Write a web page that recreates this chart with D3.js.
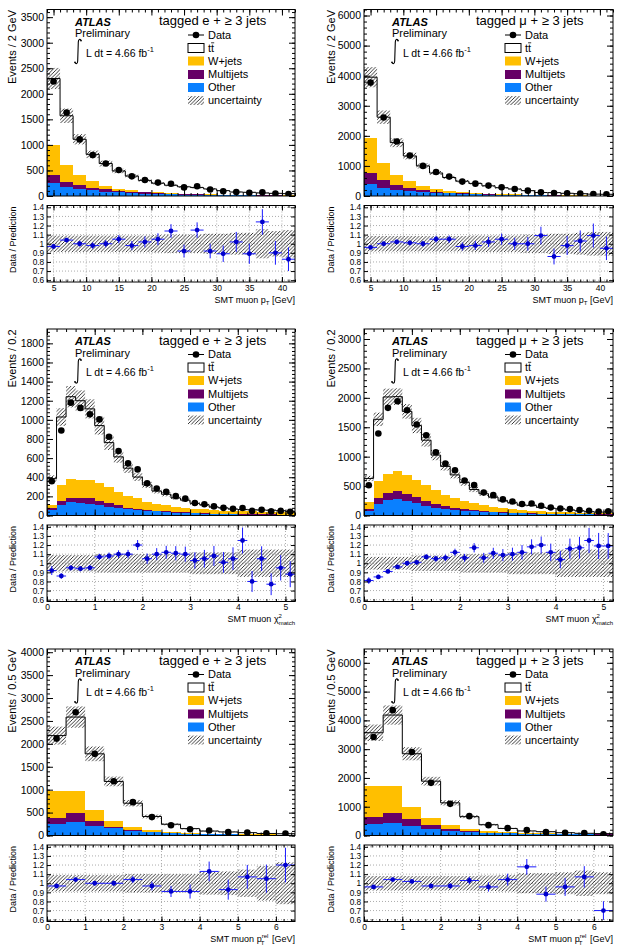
<!DOCTYPE html>
<html><head><meta charset="utf-8">
<script src="https://cdn.jsdelivr.net/npm/d3@7/dist/d3.min.js"></script>
<style>
html,body{margin:0;padding:0;background:#fff;}
svg text{font-family:"Liberation Sans",Arial,Helvetica,sans-serif;fill:#000;}
</style></head><body>
<svg id="chart" width="622" height="951" xmlns="http://www.w3.org/2000/svg"></svg>
<script>
// ===== bin centres (categories) =====
const ptBins    = [5,7,9,11,13,15,17,19,21,23,25,27,29,31,33,35,37,39,41];
const chi2Bins  = [0.1,0.3,0.5,0.7,0.9,1.1,1.3,1.5,1.7,1.9,2.1,2.3,2.5,2.7,2.9,3.1,3.3,3.5,3.7,3.9,4.1,4.3,4.5,4.7,4.9,5.1];
const ptrelBins = [0.25,0.75,1.25,1.75,2.25,2.75,3.25,3.75,4.25,4.75,5.25,5.75,6.25];

// ===== tick labels =====
const ptTicks    = [5,10,15,20,25,30,35,40];
const chi2Ticks  = [0,1,2,3,4,5];
const ptrelTicks = [0,1,2,3,4,5,6];
const ratioTicks = [0.6,0.7,0.8,0.9,1,1.1,1.2,1.3,1.4];
const yTicks_ePt     = [0,500,1000,1500,2000,2500,3000,3500];
const yTicks_muPt    = [0,1000,2000,3000,4000,5000,6000];
const yTicks_eChi2   = [0,200,400,600,800,1000,1200,1400,1600,1800];
const yTicks_muChi2  = [0,500,1000,1500,2000,2500,3000];
const yTicks_ePtrel  = [0,500,1000,1500,2000,2500,3000,3500,4000];
const yTicks_muPtrel = [0,1000,2000,3000,4000,5000,6000];

const legendLabels = ["Data","tt","W+jets","Multijets","Other","uncertainty"];
const legendKeys   = ["data","ttbar","wjets","multijet","other","unc"];

// ===== e, muon pT =====
const ePt_data     = [2240,1635,1108,800,635,510,385,312,262,240,168,190,128,93,78,65,74,47,38];
const ePt_ttbar    = [1305,965,695,522,435,346,280,217,181,152,134,129,107,80,56,54,45,39,35];
const ePt_wjets    = [585,325,200,130,70,40,25,18,12,10,8,6,5,4,4,3,3,2,2];
const ePt_multijet = [150,98,78,46,45,32,26,24,18,15,12,10,8,7,6,5,4,4,3];
const ePt_other    = [260,182,137,117,85,72,59,46,39,33,26,20,18,14,12,10,8,7,6];
const ePt_unc      = [0.09,0.09,0.09,0.09,0.09,0.09,0.09,0.09,0.095,0.1,0.1,0.1,0.11,0.11,0.12,0.12,0.16,0.14,0.15];
const ePt_ratio    = [0.97,1.04,1.00,0.98,1.00,1.05,0.98,1.02,1.05,1.14,0.92,1.15,0.92,0.89,1.02,0.89,1.24,0.90,0.83];
const ePt_ratioErr = [0.02,0.025,0.03,0.035,0.04,0.045,0.05,0.06,0.065,0.075,0.07,0.085,0.08,0.09,0.11,0.11,0.14,0.13,0.13];

// ===== mu, muon pT =====
const muPt_data     = [3770,2610,1810,1345,1000,800,645,478,410,345,290,232,178,125,97,88,78,67,54];
const muPt_ttbar    = [2035,1534,1075,830,656,531,438,359,317,258,211,181,136,81,86,68,57,47,44];
const muPt_wjets    = [1140,565,345,245,156,90,66,45,32,24,18,14,11,9,7,6,5,4,3];
const muPt_multijet = [385,243,145,90,55,34,23,20,14,11,9,7,6,5,4,3,3,2,2];
const muPt_other    = [390,278,210,165,133,110,88,68,55,45,37,30,25,20,16,13,11,9,8];
const muPt_unc      = [0.085,0.085,0.085,0.085,0.085,0.085,0.085,0.085,0.09,0.09,0.09,0.09,0.1,0.1,0.11,0.11,0.12,0.13,0.13];
const muPt_ratio    = [0.96,1.00,1.02,1.01,1.00,1.05,1.05,0.97,0.98,1.02,1.05,1.00,1.00,1.09,0.86,0.98,1.03,1.09,0.95];
const muPt_ratioErr = [0.016,0.02,0.024,0.028,0.032,0.037,0.041,0.044,0.048,0.055,0.062,0.066,0.075,0.097,0.087,0.104,0.116,0.132,0.129];

// ===== e, chi2 match =====
const eChi2_data     = [358,888,1180,1125,1058,1005,823,675,545,482,336,282,249,203,176,131,117,95,80,70,78,48,60,43,48,38];
const eChi2_ttbar    = [270,712,865,834,742,598,465,365,293,224,180,134,117,92,80,54,46,29,27,19,17,17,17,17,14,9];
const eChi2_wjets    = [35,168,192,188,195,192,171,143,122,108,81,70,63,53,45,45,42,39,34,32,31,30,28,27,26,24];
const eChi2_multijet = [24,42,45,45,56,45,39,28,17,14,14,10,7,7,7,7,7,6,6,5,4,4,4,4,3,4];
const eChi2_other    = [56,108,140,133,122,105,87,77,63,56,45,42,35,31,28,21,17,14,12,11,10,9,8,7,7,6];
const eChi2_unc      = [0.09,0.09,0.09,0.09,0.09,0.1,0.1,0.1,0.1,0.1,0.1,0.1,0.1,0.1,0.1,0.12,0.12,0.12,0.12,0.12,0.15,0.15,0.15,0.15,0.15,0.15];
const eChi2_ratio    = [0.92,0.86,0.95,0.94,0.95,1.07,1.08,1.10,1.10,1.20,1.05,1.10,1.12,1.11,1.10,1.03,1.05,1.08,1.01,1.05,1.25,0.80,1.05,0.77,0.95,0.88];
const eChi2_ratioErr = [0.049,0.029,0.028,0.028,0.029,0.034,0.038,0.042,0.047,0.055,0.057,0.066,0.071,0.078,0.083,0.09,0.097,0.11,0.113,0.125,0.142,0.115,0.136,0.12,0.139,0.143];

// ===== mu, chi2 match =====
const muChi2_data     = [515,1393,1830,1942,1790,1546,1365,1076,884,770,596,516,392,346,274,238,195,203,165,137,118,109,93,80,69,72];
const muChi2_ttbar    = [404,1052,1302,1267,1085,919,765,597,490,401,320,232,194,165,127,109,84,93,70,60,56,43,35,25,18,26];
const muChi2_wjets    = [113,283,328,345,317,300,272,232,192,164,141,119,102,85,68,63,51,45,37,33,30,26,22,18,19,14];
const muChi2_multijet = [39,113,130,136,125,107,84,68,45,34,23,23,17,11,12,5,6,6,5,5,5,5,5,5,5,5];
const muChi2_other    = [74,187,255,272,243,204,159,130,108,91,79,68,57,51,45,40,34,28,26,24,22,20,18,17,16,15];
const muChi2_unc      = [0.07,0.07,0.07,0.07,0.07,0.085,0.085,0.085,0.085,0.085,0.1,0.1,0.1,0.1,0.1,0.12,0.12,0.12,0.12,0.12,0.15,0.15,0.15,0.15,0.15,0.15];
const muChi2_ratio    = [0.81,0.85,0.91,0.96,1.00,1.01,1.07,1.05,1.06,1.12,1.06,1.17,1.06,1.11,1.09,1.10,1.12,1.18,1.20,1.12,1.04,1.16,1.17,1.25,1.19,1.19];
const muChi2_ratioErr = [0.036,0.023,0.021,0.022,0.024,0.026,0.029,0.032,0.036,0.04,0.043,0.051,0.054,0.06,0.066,0.071,0.08,0.083,0.093,0.096,0.096,0.111,0.12,0.138,0.143,0.141];

// ===== e, pT rel =====
const ePtrel_data     = [2115,2690,1782,1185,728,402,225,137,110,73,66,46,45];
const ePtrel_ttbar    = [1198,1603,1229,867,523,299,167,94,54,44,35,22,20];
const ePtrel_wjets    = [597,495,240,124,66,38,22,14,10,8,6,5,4];
const ePtrel_multijet = [130,196,95,36,16,10,8,6,5,4,3,3,2];
const ePtrel_other    = [255,291,218,153,100,68,48,36,28,22,18,14,12];
const ePtrel_unc      = [0.09,0.09,0.09,0.09,0.1,0.1,0.1,0.1,0.125,0.13,0.15,0.19,0.23];
const ePtrel_ratio    = [0.97,1.04,1.00,1.00,1.04,0.97,0.91,0.91,1.13,0.93,1.07,1.05,1.20];
const ePtrel_ratioErr = [0.021,0.02,0.024,0.029,0.038,0.048,0.061,0.078,0.108,0.11,0.131,0.154,0.19];

// ===== mu, pT rel =====
const muPtrel_data     = [3420,4355,2900,1830,1100,672,360,255,186,116,93,81,46];
const muPtrel_ttbar    = [1855,2470,1855,1274,753,423,213,129,68,62,39,28,22];
const muPtrel_wjets    = [1066,950,429,266,150,81,58,35,24,16,11,8,8];
const muPtrel_multijet = [243,325,232,116,70,35,16,11,8,6,5,4,4];
const muPtrel_other    = [406,440,324,232,162,116,88,70,58,48,42,36,32];
const muPtrel_unc      = [0.08,0.08,0.08,0.08,0.08,0.08,0.085,0.09,0.11,0.11,0.12,0.14,0.12];
const muPtrel_ratio    = [0.96,1.04,1.02,0.97,0.97,1.03,0.96,1.04,1.18,0.88,0.96,1.07,0.70];
const muPtrel_ratioErr = [0.016,0.016,0.019,0.023,0.029,0.04,0.051,0.065,0.086,0.082,0.099,0.118,0.103];

// ===== styling / layout =====
const COLORS = {ttbar:"#ffffff", wjets:"#ffbf00", multijet:"#660066", other:"#0a80ff"};
const COLS = [{x0:47,x1:295,tx:12.5},{x0:364,x1:613,tx:331}];
const ROWS = [0,319.5,639.5];
const G = {mTop:9.5, mBot:196, rTop:205.5, rBot:282};

const panels = [
 {id:"ePt", col:0,row:0,chan:"e", centers:ptBins,width:2,xDomain:[4,42],xTicks:ptTicks,xMinor:1,yMax:3650,yTicks:yTicks_ePt,yMinor:100,yTitle:"Events / 2 GeV",xt:"pt",
  data:ePt_data,ttbar:ePt_ttbar,wjets:ePt_wjets,multijet:ePt_multijet,other:ePt_other,unc:ePt_unc,ratio:ePt_ratio,ratioErr:ePt_ratioErr},
 {id:"muPt", col:1,row:0,chan:"μ", centers:ptBins,width:2,xDomain:[4,42],xTicks:ptTicks,xMinor:1,yMax:6200,yTicks:yTicks_muPt,yMinor:200,yTitle:"Events / 2 GeV",xt:"pt",
  data:muPt_data,ttbar:muPt_ttbar,wjets:muPt_wjets,multijet:muPt_multijet,other:muPt_other,unc:muPt_unc,ratio:muPt_ratio,ratioErr:muPt_ratioErr},
 {id:"eChi2", col:0,row:1,chan:"e", centers:chi2Bins,width:0.2,xDomain:[0,5.2],xTicks:chi2Ticks,xMinor:0.2,yMax:1950,yTicks:yTicks_eChi2,yMinor:40,yTitle:"Events / 0.2",xt:"chi2",
  data:eChi2_data,ttbar:eChi2_ttbar,wjets:eChi2_wjets,multijet:eChi2_multijet,other:eChi2_other,unc:eChi2_unc,ratio:eChi2_ratio,ratioErr:eChi2_ratioErr},
 {id:"muChi2", col:1,row:1,chan:"μ", centers:chi2Bins,width:0.2,xDomain:[0,5.2],xTicks:chi2Ticks,xMinor:0.2,yMax:3170,yTicks:yTicks_muChi2,yMinor:100,yTitle:"Events / 0.2",xt:"chi2",
  data:muChi2_data,ttbar:muChi2_ttbar,wjets:muChi2_wjets,multijet:muChi2_multijet,other:muChi2_other,unc:muChi2_unc,ratio:muChi2_ratio,ratioErr:muChi2_ratioErr},
 {id:"ePtrel", col:0,row:2,chan:"e", centers:ptrelBins,width:0.5,xDomain:[0,6.5],xTicks:ptrelTicks,xMinor:0.2,yMax:4070,yTicks:yTicks_ePtrel,yMinor:100,yTitle:"Events / 0.5 GeV",xt:"ptrel",
  data:ePtrel_data,ttbar:ePtrel_ttbar,wjets:ePtrel_wjets,multijet:ePtrel_multijet,other:ePtrel_other,unc:ePtrel_unc,ratio:ePtrel_ratio,ratioErr:ePtrel_ratioErr},
 {id:"muPtrel", col:1,row:2,chan:"μ", centers:ptrelBins,width:0.5,xDomain:[0,6.5],xTicks:ptrelTicks,xMinor:0.2,yMax:6480,yTicks:yTicks_muPtrel,yMinor:200,yTitle:"Events / 0.5 GeV",xt:"ptrel",
  data:muPtrel_data,ttbar:muPtrel_ttbar,wjets:muPtrel_wjets,multijet:muPtrel_multijet,other:muPtrel_other,unc:muPtrel_unc,ratio:muPtrel_ratio,ratioErr:muPtrel_ratioErr}
];

const svg = d3.select("#chart");
const defs = svg.append("defs");
const pat = defs.append("pattern").attr("id","hatch").attr("patternUnits","userSpaceOnUse").attr("width",3.6).attr("height",3.6);
pat.append("path").attr("d","M-0.9,0.9 l1.8,-1.8 M0,3.6 l3.6,-3.6 M2.7,4.5 l1.8,-1.8").attr("stroke","#111").attr("stroke-width",0.85);

function styleAxis(sel, fs){
  sel.select(".domain").remove();
  sel.selectAll(".tick line").attr("stroke","#000").attr("stroke-width",1);
  sel.selectAll(".tick text").attr("font-size",fs).attr("fill","#000")
     .attr("font-family","'Liberation Sans',Arial,Helvetica,sans-serif");
}
function minorVals(dom, step){
  const out=[]; const n=Math.round((dom[1]-dom[0])/step);
  for(let i=0;i<=n;i++){ const v=+(dom[0]+i*step).toFixed(6); if(v>=dom[0]&&v<=dom[1]) out.push(v);} return out;
}
const ratioFmt = d => d===1 ? "1" : d3.format(".1f")(d);
const intFmt = d3.format("d");

function drawPanel(p){
  const c=COLS[p.col], o=ROWS[p.row];
  const x=d3.scaleLinear().domain(p.xDomain).range([c.x0,c.x1]);
  const y=d3.scaleLinear().domain([0,p.yMax]).range([o+G.mBot,o+G.mTop]);
  const yr=d3.scaleLinear().domain([0.58,1.42]).range([o+G.rBot,o+G.rTop]);
  const bins=p.centers.map((m,i)=>({lo:m-p.width/2,hi:m+p.width/2,mid:m,
     other:p.other[i],multijet:p.multijet[i],wjets:p.wjets[i],ttbar:p.ttbar[i],
     data:p.data[i],unc:p.unc[i],ratio:p.ratio[i],rerr:p.ratioErr[i]}));
  bins.forEach(b=>b.total=b.other+b.multijet+b.wjets+b.ttbar);

  defs.append("clipPath").attr("id","cm"+p.id).append("rect")
     .attr("x",c.x0).attr("y",o+G.mTop).attr("width",c.x1-c.x0).attr("height",G.mBot-G.mTop);
  defs.append("clipPath").attr("id","cr"+p.id).append("rect")
     .attr("x",c.x0).attr("y",o+G.rTop).attr("width",c.x1-c.x0).attr("height",G.rBot-G.rTop);

  // ---- main ----
  const gm=svg.append("g").attr("clip-path",`url(#cm${p.id})`);
  const series=d3.stack().keys(["other","multijet","wjets","ttbar"])(bins);
  series.forEach(s=>{
    gm.append("g").attr("shape-rendering","crispEdges").selectAll("rect").data(s).join("rect")
      .attr("x",d=>x(d.data.lo)).attr("width",d=>x(d.data.hi)-x(d.data.lo))
      .attr("y",d=>y(d[1])).attr("height",d=>Math.max(0,y(d[0])-y(d[1])))
      .attr("fill",COLORS[s.key]);
  });
  const last=bins[bins.length-1];
  const pts=[[bins[0].lo,0],...bins.map(b=>[b.lo,b.total]),[last.hi,last.total],[last.hi,0]];
  gm.append("path").attr("d",d3.line().x(d=>x(d[0])).y(d=>y(d[1])).curve(d3.curveStepAfter)(pts))
    .attr("fill","none").attr("stroke","#000").attr("stroke-width",1);
  gm.append("g").selectAll("rect").data(bins).join("rect")
    .attr("x",b=>x(b.lo)).attr("width",b=>x(b.hi)-x(b.lo))
    .attr("y",b=>y(b.total*(1+b.unc))).attr("height",b=>y(b.total*(1-b.unc))-y(b.total*(1+b.unc)))
    .attr("fill","url(#hatch)");
  gm.append("g").selectAll("circle").data(bins).join("circle")
    .attr("cx",b=>x(b.mid)).attr("cy",b=>y(b.data)).attr("r",3.3).attr("fill","#000");

  // main axes
  const yMin=minorVals([0,p.yMax],p.yMinor), xMin=minorVals(p.xDomain,p.xMinor);
  styleAxis(svg.append("g").attr("transform",`translate(${c.x0},0)`)
     .call(d3.axisLeft(y).tickValues(p.yTicks).tickSize(-6).tickPadding(3).tickFormat(intFmt)),10.5);
  styleAxis(svg.append("g").attr("transform",`translate(${c.x0},0)`)
     .call(d3.axisLeft(y).tickValues(yMin).tickSize(-3).tickFormat("")),10);
  styleAxis(svg.append("g").attr("transform",`translate(${c.x1},0)`)
     .call(d3.axisRight(y).tickValues(p.yTicks).tickSize(-6).tickFormat("")),10);
  styleAxis(svg.append("g").attr("transform",`translate(${c.x1},0)`)
     .call(d3.axisRight(y).tickValues(yMin).tickSize(-3).tickFormat("")),10);
  [[o+G.mTop,d3.axisTop],[o+G.mBot,d3.axisBottom]].forEach(([ty,ax])=>{
    styleAxis(svg.append("g").attr("transform",`translate(0,${ty})`).call(ax(x).tickValues(p.xTicks).tickSize(-6).tickFormat("")),10);
    styleAxis(svg.append("g").attr("transform",`translate(0,${ty})`).call(ax(x).tickValues(xMin).tickSize(-3).tickFormat("")),10);
  });
  svg.append("rect").attr("x",c.x0).attr("y",o+G.mTop).attr("width",c.x1-c.x0).attr("height",G.mBot-G.mTop)
     .attr("fill","none").attr("stroke","#000").attr("stroke-width",1);

  // ---- ratio ----
  const gr=svg.append("g").attr("clip-path",`url(#cr${p.id})`);
  gr.append("g").selectAll("line").data(ratioTicks).join("line")
    .attr("x1",c.x0).attr("x2",c.x1).attr("y1",d=>yr(d)).attr("y2",d=>yr(d))
    .attr("stroke","#888").attr("stroke-width",0.7).attr("stroke-dasharray","1,2");
  gr.append("g").selectAll("line").data(p.xTicks).join("line")
    .attr("x1",d=>x(d)).attr("x2",d=>x(d)).attr("y1",o+G.rTop).attr("y2",o+G.rBot)
    .attr("stroke","#888").attr("stroke-width",0.7).attr("stroke-dasharray","1,2");
  gr.append("g").selectAll("rect").data(bins).join("rect")
    .attr("x",b=>x(b.lo)).attr("width",b=>x(b.hi)-x(b.lo))
    .attr("y",b=>yr(1+b.unc)).attr("height",b=>yr(1-b.unc)-yr(1+b.unc)).attr("fill","url(#hatch)");
  const gp=gr.append("g");
  gp.selectAll(".h").data(bins).join("line").attr("class","h")
    .attr("x1",b=>x(b.lo)).attr("x2",b=>x(b.hi)).attr("y1",b=>yr(b.ratio)).attr("y2",b=>yr(b.ratio))
    .attr("stroke","#1a1aff").attr("stroke-width",1);
  gp.selectAll(".v").data(bins).join("line").attr("class","v")
    .attr("x1",b=>x(b.mid)).attr("x2",b=>x(b.mid)).attr("y1",b=>yr(b.ratio-b.rerr)).attr("y2",b=>yr(b.ratio+b.rerr))
    .attr("stroke","#1a1aff").attr("stroke-width",1);
  gp.selectAll("circle").data(bins).join("circle")
    .attr("cx",b=>x(b.mid)).attr("cy",b=>yr(b.ratio)).attr("r",2.4).attr("fill","#0000cc");

  styleAxis(svg.append("g").attr("transform",`translate(${c.x0},0)`)
     .call(d3.axisLeft(yr).tickValues(ratioTicks).tickSize(-4).tickPadding(2.8).tickFormat(ratioFmt)),8.3);
  styleAxis(svg.append("g").attr("transform",`translate(${c.x1},0)`)
     .call(d3.axisRight(yr).tickValues(ratioTicks).tickSize(-4).tickFormat("")),8.5);
  styleAxis(svg.append("g").attr("transform",`translate(0,${o+G.rBot})`)
     .call(d3.axisBottom(x).tickValues(p.xTicks).tickSize(-5).tickPadding(2.5).tickFormat(intFmt)),8.5);
  styleAxis(svg.append("g").attr("transform",`translate(0,${o+G.rBot})`)
     .call(d3.axisBottom(x).tickValues(xMin).tickSize(-2.5).tickFormat("")),8.5);
  styleAxis(svg.append("g").attr("transform",`translate(0,${o+G.rTop})`)
     .call(d3.axisTop(x).tickValues(p.xTicks).tickSize(-5).tickFormat("")),8.5);
  styleAxis(svg.append("g").attr("transform",`translate(0,${o+G.rTop})`)
     .call(d3.axisTop(x).tickValues(xMin).tickSize(-2.5).tickFormat("")),8.5);
  svg.append("rect").attr("x",c.x0).attr("y",o+G.rTop).attr("width",c.x1-c.x0).attr("height",G.rBot-G.rTop)
     .attr("fill","none").attr("stroke","#000").attr("stroke-width",1);

  // ---- titles ----
  svg.append("text").attr("transform",`translate(${c.tx},${o+G.mTop+0.5}) rotate(-90)`)
     .attr("text-anchor","end").attr("dy","0.35em").attr("font-size",11).text(p.yTitle);
  svg.append("text").attr("transform",`translate(${c.tx},${o+G.rTop+1}) rotate(-90)`)
     .attr("text-anchor","end").attr("dy","0.35em").attr("font-size",9).text("Data / Prediction");
  const xt=svg.append("text").attr("x",c.x1).attr("y",o+302.5).attr("text-anchor","end").attr("font-size",9);
  if(p.xt==="pt"){
    xt.append("tspan").text("SMT muon p");
    xt.append("tspan").attr("font-size",6).attr("dy",2).text("T");
    xt.append("tspan").attr("dy",-2).text(" [GeV]");
  } else if(p.xt==="chi2"){
    xt.append("tspan").text("SMT muon χ");
    xt.append("tspan").attr("font-size",6).attr("dy",-4).text("2");
    xt.append("tspan").attr("font-size",6).attr("dx",-3.3).attr("dy",7).text("match");
  } else {
    xt.append("tspan").text("SMT muon p");
    xt.append("tspan").attr("font-size",6).attr("dy",-4).text("rel");
    xt.append("tspan").attr("font-size",6).attr("dx",-7.5).attr("dy",6.5).text("T");
    xt.append("tspan").attr("dy",-2.5).attr("dx",5).text(" [GeV]");
  }

  // ---- labels ----
  svg.append("text").attr("x",c.x0+28).attr("y",o+25.5).attr("font-size",11).attr("font-weight","bold")
     .attr("font-style","italic").text("ATLAS");
  svg.append("text").attr("x",c.x0+28).attr("y",o+37).attr("font-size",11).text("Preliminary");
  const ix=c.x0, iy=o;
  svg.append("path").attr("d",`M${ix+34},${iy+40.5} C${ix+33.2},${iy+38.6} ${ix+31.4},${iy+39} ${ix+31.3},${iy+42} L${ix+30.7},${iy+61} C${ix+30.6},${iy+64} ${ix+28.8},${iy+64.3} ${ix+28},${iy+62.4}`)
     .attr("fill","none").attr("stroke","#000").attr("stroke-width",1.1);
  svg.append("circle").attr("cx",ix+34).attr("cy",iy+40.6).attr("r",0.9).attr("fill","#000");
  svg.append("circle").attr("cx",ix+28).attr("cy",iy+62.3).attr("r",0.9).attr("fill","#000");
  const lt=svg.append("text").attr("x",c.x0+39).attr("y",o+56.5).attr("font-size",10.5);
  lt.append("tspan").text("L dt = 4.66 fb");
  lt.append("tspan").attr("font-size",7.5).attr("dy",-5).text("-1");
  svg.append("text").attr("x",c.x0+112).attr("y",o+25).attr("font-size",13).text(`tagged ${p.chan} + ≥ 3 jets`);

  // ---- legend ----
  const bx=c.x0+141, bw=16, bh=9, tx=c.x0+161;
  const ly=[35,48,61,74.5,87.5,100.5];
  legendKeys.forEach((k,i)=>{
    const cy=o+ly[i];
    if(k==="data"){
      svg.append("line").attr("x1",bx).attr("x2",bx+bw).attr("y1",cy).attr("y2",cy).attr("stroke","#000").attr("stroke-width",1);
      svg.append("circle").attr("cx",bx+bw/2).attr("cy",cy).attr("r",3.3).attr("fill","#000");
    } else if(k==="unc"){
      svg.append("rect").attr("x",bx).attr("y",cy-bh/2).attr("width",bw).attr("height",bh).attr("fill","url(#hatch)");
    } else {
      svg.append("rect").attr("x",bx).attr("y",cy-bh/2).attr("width",bw).attr("height",bh)
        .attr("fill",COLORS[k]).attr("stroke",k==="ttbar"?"#000":"none").attr("stroke-width",1);
    }
    svg.append("text").attr("x",tx).attr("y",cy).attr("dy","0.36em").attr("font-size",11).text(legendLabels[i]);
    if(k==="ttbar"){
      svg.append("line").attr("x1",tx+3.1).attr("x2",tx+6.2).attr("y1",cy-5.2).attr("y2",cy-5.2)
        .attr("stroke","#000").attr("stroke-width",0.8);
    }
  });
}
panels.forEach(drawPanel);
</script>
</body></html>
